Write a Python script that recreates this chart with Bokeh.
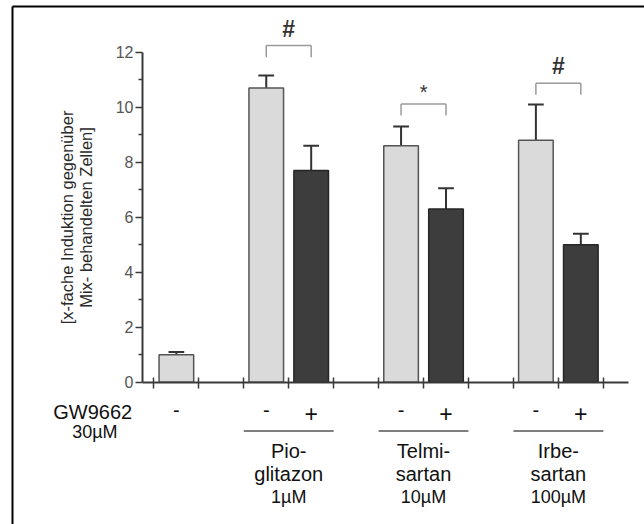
from bokeh.plotting import figure
from bokeh.models import FixedTicker, Range1d
from bokeh.core.properties import value
from bokeh.embed import file_html
from bokeh.resources import INLINE

# ---------------- data ----------------
bar_x = [0.5, 2.5, 3.5, 5.5, 6.5, 8.5, 9.5]
bar_values = [1.0, 10.7, 7.7, 8.6, 6.3, 8.8, 5.0]
bar_err_top = [1.1, 11.15, 8.6, 9.3, 7.05, 10.1, 5.4]
gw9662 = ["-", "-", "+", "-", "+", "-", "+"]

group_x = [3, 6, 9]
group_start = [2, 5, 8]
group_end = [4, 7, 10]
group_line1 = ["Pio-", "Telmi-", "Irbe-"]
group_line2 = ["glitazon", "sartan", "sartan"]
group_conc = ["1µM", "10µM", "100µM"]

sig_left = [2.5, 5.5, 8.5]
sig_right = [3.5, 6.5, 9.5]
sig_top = [12.24, 10.12, 10.87]
sig_symbol = ["#", "*", "#"]

y_ticks = [0, 2, 4, 6, 8, 10, 12]
y_minor = [1, 3, 5, 7, 9, 11]
x_ticks = list(range(11))

# ---------------- pixel <-> data helpers (layout only) ----------------
PX0, PXU, PY0, PYU = 153.4, 44.94, 381.7, 27.5
def dx(px):
    return (px - PX0) / PXU
def dy(py):
    return (PY0 - py) / PYU

FONT = value("Liberation Sans")

p = figure(width=644, height=524, x_range=Range1d(dx(0), dx(644)),
           y_range=Range1d(dy(524), dy(0)), output_backend="svg",
           toolbar_location=None, min_border=0)
p.outline_line_color = None
p.grid.visible = False
p.background_fill_color = "white"
p.border_fill_color = "white"

# outer frame (left + top border lines)
p.segment(x0=[dx(12), dx(12)], y0=[dy(6), dy(6)], x1=[dx(12), dx(644)],
          y1=[dy(524), dy(6)], line_color="black", line_width=2)

# y axis
ya = p.yaxis[0]
ya.fixed_location = dx(142)
ya.bounds = (0, 12)
ya.ticker = FixedTicker(ticks=y_ticks, minor_ticks=y_minor)
ya.axis_line_color = "#3a3a3a"
ya.axis_line_width = 2
ya.major_tick_line_color = "#3a3a3a"
ya.major_tick_line_width = 1.5
ya.minor_tick_line_color = "#3a3a3a"
ya.minor_tick_line_width = 1.5
ya.major_tick_out = 7
ya.major_tick_in = 0
ya.minor_tick_out = 4
ya.minor_tick_in = 0
ya.major_label_standoff = 2
ya.major_label_text_font = "Liberation Sans"
ya.major_label_text_font_size = "16px"
ya.major_label_text_color = "#555555"
ya.axis_label = "[x-fache Induktion gegenüber\nMix- behandelten Zellen]"
ya.axis_label_text_font = "Liberation Sans"
ya.axis_label_text_font_size = "16.5px"
ya.axis_label_text_font_style = "normal"
ya.axis_label_text_color = "#2a2a2a"
ya.axis_label_text_line_height = 1.05
ya.axis_label_standoff = 18

# x axis
xa = p.xaxis[0]
xa.fixed_location = 0
xa.bounds = (dx(142), dx(628))
xa.ticker = FixedTicker(ticks=x_ticks, minor_ticks=[])
xa.axis_line_color = "#3a3a3a"
xa.axis_line_width = 2
xa.major_tick_line_color = "#3a3a3a"
xa.major_tick_line_width = 1.5
xa.major_tick_in = 5
xa.major_tick_out = 6
xa.minor_tick_out = 0
xa.minor_tick_in = 0
xa.major_label_text_font_size = "0px"
xa.major_label_text_color = None

# bars
light_x = [x for x, g in zip(bar_x, gw9662) if g == "-"]
light_v = [v for v, g in zip(bar_values, gw9662) if g == "-"]
dark_x = [x for x, g in zip(bar_x, gw9662) if g == "+"]
dark_v = [v for v, g in zip(bar_values, gw9662) if g == "+"]

# error bars (upper only)
cap = 0.175
p.segment(x0=bar_x, y0=bar_values, x1=bar_x, y1=bar_err_top,
          line_color="#333333", line_width=2)
p.segment(x0=[x - cap for x in bar_x], y0=bar_err_top,
          x1=[x + cap for x in bar_x], y1=bar_err_top,
          line_color="#333333", line_width=2)

p.vbar(x=light_x, top=light_v, bottom=0, width=0.77,
       fill_color="#dadada", line_color="#555555", line_width=1.5)
p.vbar(x=dark_x, top=dark_v, bottom=0, width=0.77,
       fill_color="#3d3d3d", line_color="#262626", line_width=1.5)

# significance brackets
leg = 0.42
p.segment(x0=sig_left, y0=sig_top, x1=sig_right, y1=sig_top,
          line_color="#9a9a9a", line_width=1.5)
p.segment(x0=sig_left, y0=sig_top, x1=sig_left, y1=[t - leg for t in sig_top],
          line_color="#9a9a9a", line_width=1.5)
p.segment(x0=sig_right, y0=sig_top, x1=sig_right, y1=[t - leg for t in sig_top],
          line_color="#9a9a9a", line_width=1.5)
hash_x = [x for x, s in zip(group_x, sig_symbol) if s == "#"]
hash_y = [t + 0.62 for t, s in zip(sig_top, sig_symbol) if s == "#"]
star_x = [x for x, s in zip(group_x, sig_symbol) if s == "*"]
star_y = [t + 0.44 for t, s in zip(sig_top, sig_symbol) if s == "*"]
p.text(x=hash_x, y=hash_y, text=["#"] * len(hash_x), text_font=FONT,
       text_font_size="23px", text_font_style="bold", text_align="center",
       text_baseline="alphabetic", text_color="#333333")
p.text(x=star_x, y=star_y, text=["*"] * len(star_x), text_font=FONT,
       text_font_size="20px", text_align="center", text_baseline="alphabetic",
       text_color="#333333")

SH = 5  # baseline correction (px)

# GW9662 row
p.text(x=[dx(92.2)], y=[dy(416.7 - SH)], text=["GW9662"], text_font=FONT,
       text_font_size="20px", text_align="center", text_baseline="alphabetic",
       text_color="#111111")
p.text(x=[dx(94.4)], y=[dy(436.7 - SH)], text=["30µM"], text_font=FONT,
       text_font_size="18px", text_align="center", text_baseline="alphabetic",
       text_color="#111111")
minus_x = [x for x, g in zip(bar_x, gw9662) if g == "-"]
plus_x = [x for x, g in zip(bar_x, gw9662) if g == "+"]
p.text(x=minus_x, y=[dy(414 - SH)] * len(minus_x), text=["-"] * len(minus_x),
       text_font=FONT, text_font_size="20px", text_align="center",
       text_baseline="alphabetic", text_color="#111111")
p.text(x=plus_x, y=[dy(418 - SH)] * len(plus_x), text=["+"] * len(plus_x),
       text_font=FONT, text_font_size="23px", text_align="center",
       text_baseline="alphabetic", text_color="#111111")

# group underlines and names
p.segment(x0=group_start, y0=[dy(430.5)] * 3, x1=group_end, y1=[dy(430.5)] * 3,
          line_color="#555555", line_width=1.5)
p.text(x=group_x, y=[dy(455 - SH)] * 3, text=group_line1, text_font=FONT,
       text_font_size="20px", text_align="center", text_baseline="alphabetic",
       text_color="#111111")
p.text(x=group_x, y=[dy(478.5 - SH)] * 3, text=group_line2, text_font=FONT,
       text_font_size="20px", text_align="center", text_baseline="alphabetic",
       text_color="#111111")
p.text(x=group_x, y=[dy(501 - SH)] * 3, text=group_conc, text_font=FONT,
       text_font_size="18px", text_align="center", text_baseline="alphabetic",
       text_color="#111111")

open("out.html", "w").write(file_html(p, INLINE))
